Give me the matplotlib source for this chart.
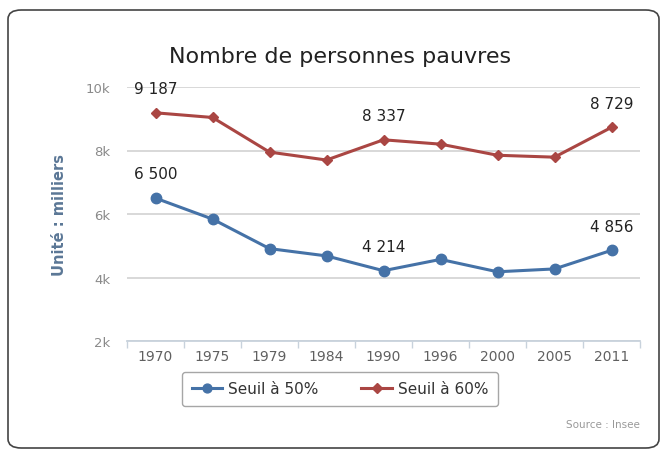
import matplotlib.pyplot as plt
from matplotlib.patches import FancyBboxPatch
from matplotlib.ticker import FuncFormatter

annees = ["1970", "1975", "1979", "1984", "1990", "1996", "2000", "2005", "2011"]
seuil_50 = [6500, 5840, 4910, 4680, 4214, 4570, 4180, 4270, 4856]
seuil_60 = [9187, 9040, 7950, 7700, 8337, 8200, 7850, 7790, 8729]
etiquettes = [0, 4, 8]  # points qui portent une valeur

BLEU = "#4572A7"
ROUGE = "#AA4643"

plt.rcParams["font.family"] = ["DejaVu Sans"]

fig = plt.figure(figsize=(6.62, 4.52), dpi=100)
W, H = 662, 452

# cadre arrondi autour du graphique
cadre = FancyBboxPatch((8 / W, 3 / H), 651 / W, 438 / H,
                       boxstyle="round,pad=0,rounding_size=0.02",
                       transform=fig.transFigure, fill=False,
                       edgecolor="#444444", linewidth=1.2)
fig.patches.append(cadre)

ax = fig.add_axes([127 / W, (H - 342) / H, 513 / W, 254 / H])
x = list(range(len(annees)))

ax.plot(x, seuil_50, color=BLEU, linewidth=2.2, marker="o", markersize=7.5,
        label="Seuil à 50%", zorder=3)
ax.plot(x, seuil_60, color=ROUGE, linewidth=2.2, marker="D", markersize=5.5,
        label="Seuil à 60%", zorder=3)

def fmt(v):
    return f"{v:,}".replace(",", " ")

for serie in (seuil_50, seuil_60):
    for i in etiquettes:
        ax.annotate(fmt(serie[i]), (x[i], serie[i]), xytext=(0, 12),
                    textcoords="offset points", ha="center", va="bottom",
                    fontsize=11, color="#222222")

ax.set_xlim(-0.5, len(annees) - 0.5)
ax.set_ylim(2000, 10000)
ax.set_yticks([2000, 4000, 6000, 8000, 10000])
ax.yaxis.set_major_formatter(FuncFormatter(lambda v, p: f"{int(v / 1000)}k"))
ax.set_xticks(x)
ax.set_xticklabels(annees)
ax.set_xticks([i - 0.5 for i in range(len(annees) + 1)], minor=True)

ax.grid(axis="y", color="#d6d6d6", linewidth=1.3)
ax.set_axisbelow(True)
for s in ("left", "right", "top"):
    ax.spines[s].set_visible(False)
ax.spines["bottom"].set_color("#c8d2dc")
ax.spines["bottom"].set_linewidth(1.3)

ax.tick_params(axis="y", length=0, pad=12, labelsize=9.5, labelcolor="#8a8a8a")
ax.tick_params(axis="x", which="major", length=0, pad=6, labelsize=10,
               labelcolor="#606060")
ax.tick_params(axis="x", which="minor", length=5, color="#c8d2dc", width=1)

fig.text(340 / W, (H - 57) / H, "Nombre de personnes pauvres", ha="center",
         va="center", fontsize=16, color="#222222")
fig.text(60 / W, (H - 215) / H, "Unité : milliers", rotation=90, ha="center",
         va="center", fontsize=10.5, fontweight="bold", color="#5b7796")
fig.text(640 / W, (H - 425) / H, "Source : Insee", ha="right", va="center",
         fontsize=7.5, color="#999999")

leg = fig.legend(loc="center", bbox_to_anchor=(340 / W, (H - 390) / H),
                 ncol=2, fontsize=11, frameon=True, fancybox=True,
                 edgecolor="#909090", handlelength=2, columnspacing=2.8,
                 borderpad=0.6, handletextpad=0.4, markerscale=0.85)
leg.get_frame().set_linewidth(1)
for t in leg.get_texts():
    t.set_color("#333333")

fig.savefig("out.png", dpi=100)
